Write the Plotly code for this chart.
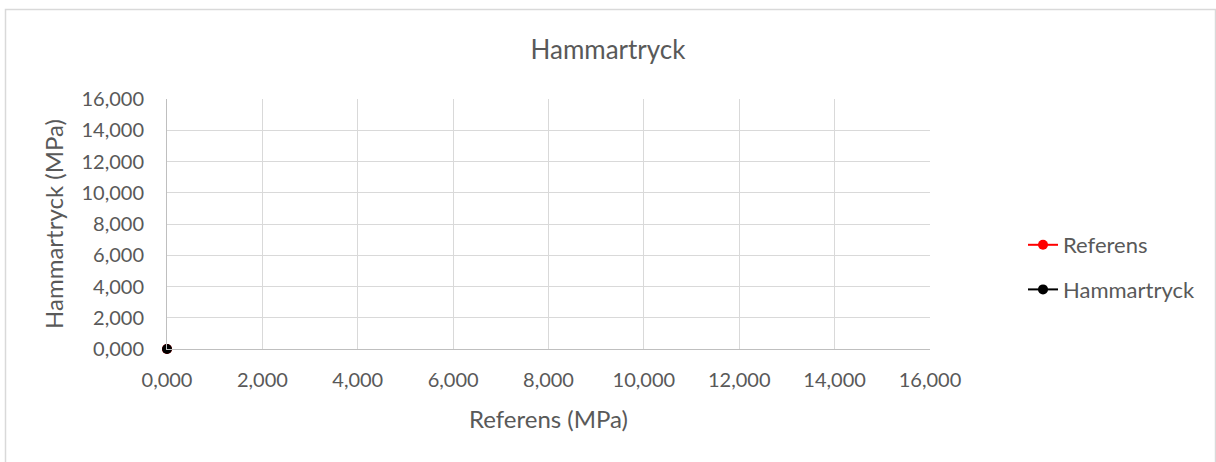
import plotly.graph_objects as go

# Data
referens_x = [0.0]
referens_y = [0.0]
hammar_x = [0.0]
hammar_y = [0.0]
tick_vals = [0, 2, 4, 6, 8, 10, 12, 14, 16]
tick_text = ["0,000", "2,000", "4,000", "6,000", "8,000", "10,000", "12,000", "14,000", "16,000"]

FONT = "Lato"
GREY = "#595959"

fig = go.Figure()
fig.add_trace(go.Scatter(x=referens_x, y=referens_y, name="Referens", mode="lines+markers",
                         line=dict(color="#ff0000", width=2), marker=dict(size=10, color="#ff0000"),
                         cliponaxis=False, legendgroup="a"))
fig.add_trace(go.Scatter(x=hammar_x, y=hammar_y, name="Hammartryck", mode="lines+markers",
                         line=dict(color="#000000", width=2), marker=dict(size=10, color="#000000"),
                         cliponaxis=False, legendgroup="b"))

L, R, T, B = 167, 930, 99, 349
W, H = 1216, 462
pw, ph = R - L, B - T

def px(x):
    return (x - L) / pw

def py(y):
    return (B - y) / ph

fig.update_layout(
    width=W, height=H,
    margin=dict(l=L, r=W - R, t=T, b=H - B),
    paper_bgcolor="white", plot_bgcolor="white",
    font=dict(family=FONT, color=GREY, size=16),
    title=dict(text="Hammartryck", x=0.5, xanchor="center", y=1 - 50 / H, yanchor="middle",
               font=dict(size=26, color=GREY, family=FONT)),
    showlegend=True,
    legend=dict(x=px(1023), y=py(224), xanchor="left", yanchor="top",
                font=dict(size=22, color=GREY, family=FONT),
                tracegroupgap=13, bgcolor="rgba(0,0,0,0)"),
    xaxis=dict(range=[0, 16], tickvals=tick_vals, ticktext=tick_text,
               showgrid=True, gridcolor="#d9d9d9", gridwidth=1,
               zeroline=False, showline=True, linecolor="#bfbfbf", linewidth=1,
               ticks="", tickfont=dict(size=20, color=GREY), ticklabelstandoff=13,
               title=dict(text="Referens (MPa)", font=dict(size=24, color=GREY), standoff=21),
               fixedrange=True),
    yaxis=dict(range=[0, 16], tickvals=tick_vals, ticktext=tick_text,
               showgrid=True, gridcolor="#d9d9d9", gridwidth=1,
               zeroline=False, showline=True, linecolor="#bfbfbf", linewidth=1,
               ticks="", tickfont=dict(size=20, color=GREY), ticklabelstandoff=18,
               title=dict(text="Hammartryck (MPa)", font=dict(size=24, color=GREY), standoff=11),
               fixedrange=True),
    shapes=[dict(type="rect", xref="paper", yref="paper",
                 x0=px(5.5), x1=px(1215.5), y0=py(470), y1=py(9.5),
                 line=dict(color="#d9d9d9", width=1.5), fillcolor="rgba(0,0,0,0)", layer="below")],
)

fig.write_html("out.html", config={"displayModeBar": False},
               post_script="document.body.style.margin='0';document.body.style.overflow='hidden';")
